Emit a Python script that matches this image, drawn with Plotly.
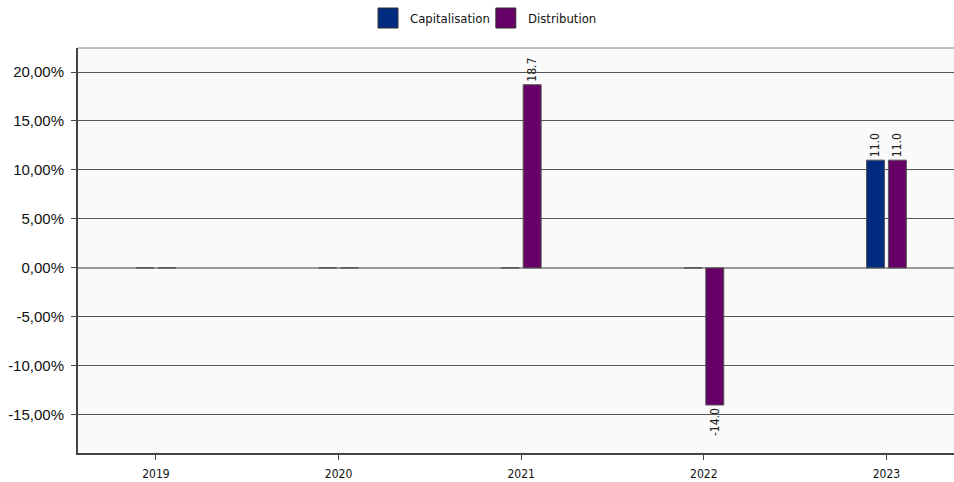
import plotly.graph_objects as go

years = ["2019", "2020", "2021", "2022", "2023"]
capitalisation = [0.0, 0.0, 0.0, 0.0, 11.0]
distribution = [0.0, 0.0, 18.7, -14.0, 11.0]
series_names = ["Capitalisation", "Distribution"]
series_colors = ["#002B7F", "#660066"]
y_ticks = [-15, -10, -5, 0, 5, 10, 15, 20]
y_tick_labels = ["-15,00%", "-10,00%", "-5,00%", "0,00%", "5,00%", "10,00%", "15,00%", "20,00%"]

NARROW = "DejaVu Sans Condensed, Liberation Sans Narrow, Arial Narrow, sans-serif"
REGULAR = "Liberation Sans, Arial, sans-serif"


def labels(vals):
    return [f"{v:.1f}" if v != 0 else "" for v in vals]


fig = go.Figure()
for name, vals, color in zip(series_names, [capitalisation, distribution], series_colors):
    fig.add_trace(go.Bar(
        x=years, y=vals, name=name,
        marker=dict(color=color, line=dict(color="#555555", width=1)),
        text=labels(vals), textposition="outside", textangle=-90,
        constraintext="none",
        textfont=dict(family=NARROW, size=12, color="#222222"),
        cliponaxis=False, showlegend=False,
    ))

# Legend drawn as swatches + labels at the top
legend_items = [(0.3425, 0.3767, series_names[0]), (0.477, 0.5114, series_names[1])]
shapes = []
annotations = []
for (sx, tx, name), color in zip(legend_items, series_colors):
    shapes.append(dict(type="rect", xref="paper", yref="paper",
                       x0=sx, x1=sx + 0.0228, y0=1.0 + 20 / 405, y1=1.0 + 40 / 405,
                       fillcolor=color, line=dict(color="#333333", width=1)))
    annotations.append(dict(text=name, xref="paper", yref="paper", x=tx, y=1.0 + 30 / 405,
                            xanchor="left", yanchor="middle", showarrow=False,
                            font=dict(family=NARROW, size=13, color="#111111")))
# light top border of the plot area
shapes.append(dict(type="line", xref="paper", yref="paper", x0=0, x1=1, y0=1, y1=1,
                   line=dict(color="#AAAAAA", width=1.5)))

fig.update_layout(
    width=954, height=482,
    margin=dict(l=78, r=0, t=48, b=29),
    paper_bgcolor="white", plot_bgcolor="#FAFAFA",
    barmode="group", bargap=0.76, bargroupgap=0.18,
    shapes=shapes, annotations=annotations,
    showlegend=False,
    xaxis=dict(
        type="category", range=[-0.427, 4.37],
        showline=True, linecolor="#444444", linewidth=2,
        ticks="outside", ticklen=5, tickcolor="#444444",
        tickfont=dict(family=NARROW, size=12, color="#111111"),
        ticklabelstandoff=4,
        showgrid=False, zeroline=False,
    ),
    yaxis=dict(
        range=[-18.9, 22.45],
        tickvals=y_ticks, ticktext=y_tick_labels,
        showline=True, linecolor="#444444", linewidth=2,
        ticks="outside", ticklen=5, tickcolor="#444444",
        tickfont=dict(family=REGULAR, size=15, color="#111111"),
        ticklabelstandoff=4,
        showgrid=True, gridcolor="#555555", gridwidth=1,
        zeroline=True, zerolinecolor="#999999", zerolinewidth=2,
    ),
)

fig.write_html("out.html")
